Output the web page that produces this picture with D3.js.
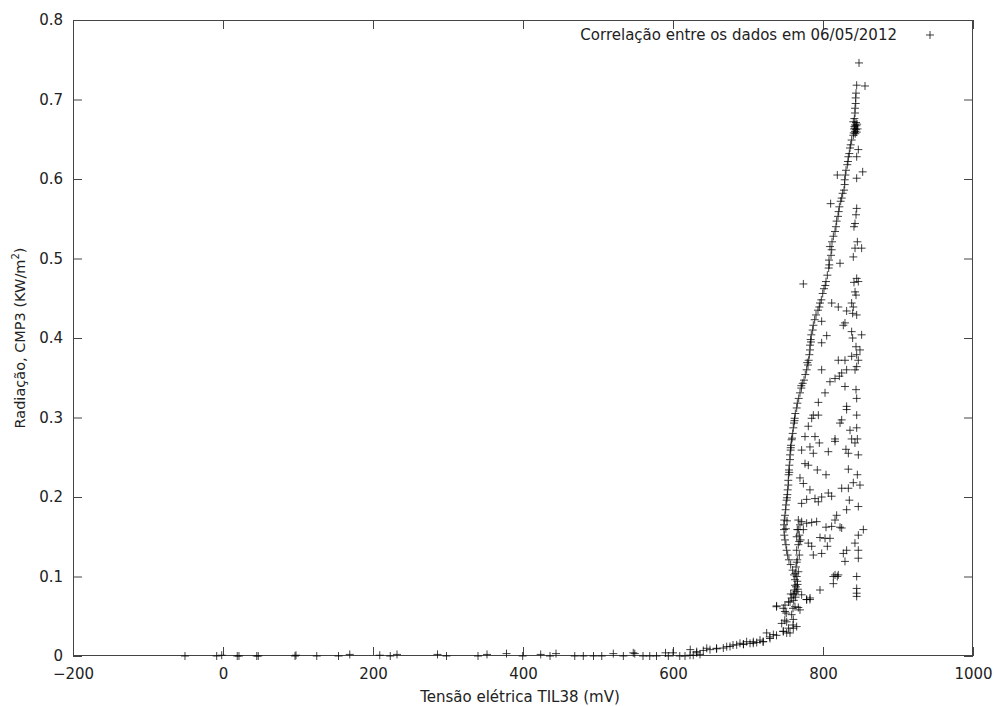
<!DOCTYPE html>
<html>
<head>
<meta charset="utf-8">
<script src="https://cdn.jsdelivr.net/npm/d3@7/dist/d3.min.js"></script>
<style>
  html, body { margin: 0; padding: 0; background: #fff; }
  svg { display: block; }
  text { font-family: "DejaVu Sans", sans-serif; }
</style>
</head>
<body>
<svg id="chart" width="994" height="706"></svg>
<script>
// ---------- data ----------
const xTicks = [-200, 0, 200, 400, 600, 800, 1000];
const yTicks = [0, 0.1, 0.2, 0.3, 0.4, 0.5, 0.6, 0.7, 0.8];
const legendLabel = "Correlação entre os dados em 06/05/2012";
const xLabel = "Tensão elétrica TIL38 (mV)";

// night / low readings along the baseline
const baselinePoints = [
  [-50.7, 0], [-8.4, 0], [-1.7, 0.001], [19, 0], [21.3, 0], [45, 0], [47, 0],
  [96, 0], [97.3, 0.001], [125, 0], [154, 0], [169, 0.002], [209, 0.001],
  [223, 0], [232, 0.002], [286, 0.002], [298, 0], [340, 0], [352, 0.002],
  [378, 0.003], [399.6, 0], [423.6, 0.002], [436, 0], [444, 0.003], [469, 0],
  [480.4, 0], [494, 0], [505, 0], [520.4, 0.003], [533.8, 0], [547, 0.004],
  [549, 0.003], [560, 0], [569, 0], [578, 0], [590, 0.004], [593.8, 0],
  [600, 0.004], [609, 0], [616, 0], [623, 0.008], [627, 0.001], [636, 0.002]
];

// morning rise along the main trace
const risePoints = [
  [622.7, 0.001], [631.6, 0.004], [631.6, 0.0055], [640.4, 0.007], [645, 0.0097],
  [649.3, 0.008], [658.2, 0.009], [658, 0.0097], [667.1, 0.010], [671.6, 0.0117],
  [676, 0.012], [680, 0.0138], [684.9, 0.014], [689.3, 0.016], [693.8, 0.015],
  [694, 0.0147], [698.2, 0.018], [702.7, 0.016], [707, 0.016], [707.1, 0.018],
  [711.6, 0.017], [716, 0.020], [720, 0.018], [720.4, 0.018], [724.9, 0.029],
  [729, 0.024], [729.3, 0.022], [733.8, 0.027], [738, 0.026], [738, 0.062],
  [744.9, 0.041], [747, 0.031], [747.1, 0.031], [749, 0.045], [749.3, 0.056],
  [751, 0.054], [751.6, 0.043], [751.6, 0.029], [754, 0.035], [754, 0.068],
  [756, 0.029], [758.2, 0.052], [760, 0.060], [760, 0.039], [760.4, 0.046],
  [760.4, 0.035], [764.9, 0.037], [769.3, 0.058]
];

// dense main trace of the day
const mainCurve = [
  [758.2, 0.073], [760.4, 0.077], [761.7, 0.083], [762.6, 0.089], [762.6, 0.096],
  [761.3, 0.102], [759.5, 0.108], [756.9, 0.115], [754.6, 0.121], [752.9, 0.127],
  [751.5, 0.133], [750.6, 0.140], [749.3, 0.146], [748.4, 0.152], [748, 0.159],
  [748, 0.165], [748.4, 0.171], [749.3, 0.177], [750.2, 0.184], [750.6, 0.190],
  [751.5, 0.196], [752.4, 0.203], [752.9, 0.209], [753.7, 0.215], [753.7, 0.221],
  [754.2, 0.228], [754.6, 0.234], [755.1, 0.240], [756, 0.247], [756, 0.253],
  [756.9, 0.259], [757.3, 0.265], [758.2, 0.272], [758.7, 0.274], [759.6, 0.280],
  [760.4, 0.287], [761.3, 0.293], [762.2, 0.299], [763.1, 0.305], [764.9, 0.312],
  [765.8, 0.318], [767.6, 0.324], [769.3, 0.331], [771.1, 0.337], [772.9, 0.343],
  [774.7, 0.347], [776.4, 0.354], [778.2, 0.360], [780, 0.366], [780.9, 0.372],
  [781.8, 0.379], [782.7, 0.385], [782.7, 0.391], [783.5, 0.398], [784.4, 0.404],
  [786.2, 0.410], [787.1, 0.416], [788.9, 0.423], [790.7, 0.429], [793.3, 0.435],
  [795.1, 0.439], [797.8, 0.448], [799.6, 0.456], [801.3, 0.462], [804, 0.471],
  [805.8, 0.479], [807.6, 0.488], [808.4, 0.492], [810.7, 0.504], [811.6, 0.511],
  [809.3, 0.515], [812, 0.521], [813.8, 0.528], [816, 0.534], [817.3, 0.540],
  [818.2, 0.547], [820, 0.553], [820.9, 0.559], [821.8, 0.565], [823.6, 0.572],
  [824.9, 0.576], [826.2, 0.582], [828, 0.586], [828.9, 0.593], [828.9, 0.599],
  [829.8, 0.605], [830.7, 0.611], [832.4, 0.618], [833.3, 0.622], [833.8, 0.628],
  [835.1, 0.632], [836, 0.639], [836.9, 0.643], [838.2, 0.649], [840.4, 0.655],
  [842.7, 0.660], [842.7, 0.664], [842.7, 0.668], [840.4, 0.672], [841.8, 0.676],
  [842.7, 0.683], [842.7, 0.689], [843.6, 0.695], [843.6, 0.702], [844, 0.708]
];

// second (afternoon) pass close to the main trace, lower part
const secondBand = [
  [767.1, 0.171], [769.3, 0.165], [765.7, 0.159], [768.4, 0.152], [770.2, 0.146],
  [767.1, 0.140], [764.9, 0.133], [768.4, 0.127], [765.7, 0.121], [764, 0.112],
  [767.1, 0.106], [764.9, 0.100], [765.7, 0.094], [764, 0.087], [764.9, 0.081],
  [766, 0.090], [763, 0.104], [766.5, 0.084], [762.5, 0.079], [765, 0.118],
  [750.5, 0.160], [752, 0.170], [757, 0.078], [761, 0.070], [763.5, 0.074],
  [842, 0.666], [844, 0.662], [845, 0.659], [841, 0.658], [844.5, 0.667],
  [846, 0.663], [843, 0.657], [845.5, 0.669], [841.5, 0.663], [844, 0.671],
  [808, 0.498], [803, 0.466], [796, 0.444], [779, 0.369], [784, 0.395],
  [771, 0.340], [762, 0.296], [757, 0.262], [755, 0.231], [752, 0.199]
];

// cloudy-period scatter to the right of the main trace
const scatterPoints = [
  [848, 0.746], [856, 0.717], [844.9, 0.718], [844.9, 0.628], [847.1, 0.637],
  [819.1, 0.605], [844.9, 0.601], [852.9, 0.609], [810.2, 0.569], [844.9, 0.563],
  [844, 0.555], [842.7, 0.544], [841.3, 0.540], [845.8, 0.521], [842.7, 0.513],
  [851.5, 0.513],
  [773.8, 0.468], [822.7, 0.494], [840.4, 0.502], [844.9, 0.475], [841.3, 0.470],
  [847.1, 0.471], [842.7, 0.458], [844, 0.454], [838.2, 0.444], [840.4, 0.439],
  [820.4, 0.439], [831.5, 0.434], [839.5, 0.431], [844.9, 0.429], [811.6, 0.444],
  [798.2, 0.421], [829.3, 0.419], [827.1, 0.416], [804.9, 0.403], [798.2, 0.394],
  [838.2, 0.408], [851.5, 0.404], [839.5, 0.400], [844, 0.389], [849.3, 0.385],
  [844.9, 0.379], [838.2, 0.377], [847.1, 0.372], [820.4, 0.372], [829.3, 0.372],
  [798.2, 0.360], [831.5, 0.360], [824.9, 0.356], [821.8, 0.352], [816, 0.349],
  [809.3, 0.345], [844.9, 0.364], [842.7, 0.360], [829.3, 0.339], [844, 0.335],
  [844.9, 0.324], [802.7, 0.331], [793.8, 0.319], [831.5, 0.314], [831.5, 0.310],
  [787.1, 0.303], [784.9, 0.299], [793.8, 0.303], [844.9, 0.303], [822.7, 0.293],
  [824.9, 0.297], [780.4, 0.289], [836, 0.284], [844.9, 0.287], [776, 0.276],
  [789.3, 0.276], [816, 0.273], [838.2, 0.273], [845.8, 0.273],
  [771.5, 0.259], [782.6, 0.263], [787.1, 0.255], [795.1, 0.268], [807.1, 0.257],
  [816, 0.270], [830.6, 0.260], [833.8, 0.255], [847.1, 0.253], [842.6, 0.268],
  [776, 0.242], [780.4, 0.240], [792.4, 0.234], [804, 0.228], [833.8, 0.235],
  [845.8, 0.228], [769.3, 0.224], [773.8, 0.217], [782.6, 0.209], [824.9, 0.211],
  [833.8, 0.211], [840.4, 0.218], [849.3, 0.215], [798.2, 0.200], [807.1, 0.205],
  [811.5, 0.201], [789.3, 0.198], [793.8, 0.194], [778.2, 0.197], [771.5, 0.192],
  [835.1, 0.196], [847.1, 0.188], [831.5, 0.184], [818.2, 0.177], [816, 0.171],
  [771.5, 0.169], [778.2, 0.167], [784.9, 0.168], [791.5, 0.169], [804, 0.162],
  [811.5, 0.163], [822.7, 0.162], [824.9, 0.161], [853.8, 0.159], [847.1, 0.152],
  [767.1, 0.159], [773.8, 0.159], [764.9, 0.150], [796, 0.149], [802.7, 0.148],
  [809.3, 0.148], [805.8, 0.138], [768.4, 0.144], [780.4, 0.142], [784.9, 0.138],
  [798.2, 0.129], [787.1, 0.127], [842.6, 0.142], [831.5, 0.133], [827.1, 0.129],
  [829.3, 0.119], [847.1, 0.133], [847.1, 0.123], [816, 0.102], [813.8, 0.091],
  [819.1, 0.100], [844.9, 0.100], [796, 0.083], [844.9, 0.085], [844.9, 0.079],
  [844.9, 0.075], [778.2, 0.071], [782.6, 0.071], [771.5, 0.077], [738.2, 0.063],
  [749.3, 0.064], [756, 0.068], [762.7, 0.062], [767.1, 0.061], [747.1, 0.060],
  [813.8, 0.100], [820.4, 0.102], [778.2, 0.071], [782.7, 0.073]
];

// ---------- drawing ----------
const svg = d3.select("#chart");
const W = 994, H = 706;
const margin = { left: 73, right: 21, top: 20, bottom: 50 };
const x0 = margin.left, x1 = W - margin.right;
const y0 = H - margin.bottom, y1 = margin.top;

const x = d3.scaleLinear().domain([-200, 1000]).range([x0, x1]);
const y = d3.scaleLinear().domain([0, 0.8]).range([y0, y1]);

const tickLen = 9;
const frameColor = "#444";
const textColor = "#222";
const fs = 15;

const fmtY = d => d === 0 ? "0" : d3.format(".1f")(d);
const gx = svg.append("g").attr("transform", `translate(0,${y0})`)
  .call(d3.axisBottom(x).tickValues(xTicks).tickSizeInner(-tickLen).tickSizeOuter(0).tickFormat(d3.format("d")));
const gy = svg.append("g").attr("transform", `translate(${x0},0)`)
  .call(d3.axisLeft(y).tickValues(yTicks).tickSizeInner(-tickLen).tickSizeOuter(0).tickPadding(10).tickFormat(fmtY));
const gxt = svg.append("g").attr("transform", `translate(0,${y1})`)
  .call(d3.axisTop(x).tickValues(xTicks).tickSizeInner(-tickLen).tickSizeOuter(0).tickFormat(""));
const gyr = svg.append("g").attr("transform", `translate(${x1},0)`)
  .call(d3.axisRight(y).tickValues(yTicks).tickSizeInner(-tickLen).tickSizeOuter(0).tickFormat(""));

[gx, gy, gxt, gyr].forEach(g => {
  g.select(".domain").remove();
  g.selectAll(".tick line").attr("stroke", frameColor).attr("stroke-width", 1);
  g.selectAll(".tick text").attr("fill", textColor).attr("font-size", fs)
    .attr("font-family", "DejaVu Sans, sans-serif");
});
// x tick labels: baseline placed well below the axis, clear of the "0" label
gx.selectAll(".tick text").attr("y", 23).attr("dy", "0");

// frame
svg.append("rect")
  .attr("x", x0 + 0.5).attr("y", y1 + 0.5)
  .attr("width", x1 - x0 - 1).attr("height", y0 - y1 - 1)
  .attr("fill", "none").attr("stroke", frameColor).attr("stroke-width", 1);

// axis titles
svg.append("text")
  .attr("x", (x0 + x1) / 2 - 3).attr("y", 702)
  .attr("text-anchor", "middle").attr("font-size", fs).attr("fill", textColor)
  .text(xLabel);

const yl = svg.append("text")
  .attr("transform", `translate(25,${(y0 + y1) / 2}) rotate(-90)`)
  .attr("text-anchor", "middle").attr("font-size", 14.5).attr("fill", textColor);
yl.append("tspan").text("Radiação, CMP3 (KW/m");
yl.append("tspan").attr("font-size", 10).attr("dy", -6).text("2");
yl.append("tspan").attr("dy", 6).text(")");

// markers
const allPoints = baselinePoints.concat(risePoints, mainCurve, secondBand, scatterPoints);
const cs = 4;
const crossPath = `M${-cs},0H${cs}M0,${-cs}V${cs}`;
svg.append("g").selectAll("path").data(allPoints).join("path")
  .attr("transform", d => `translate(${x(d[0])},${y(d[1])})`)
  .attr("d", crossPath)
  .attr("stroke", "#000").attr("stroke-opacity", 0.75).attr("stroke-width", 1)
  .attr("fill", "none");

// legend
svg.append("text")
  .attr("x", 897).attr("y", 40)
  .attr("text-anchor", "end").attr("font-size", fs).attr("fill", textColor)
  .text(legendLabel);
svg.append("path")
  .attr("transform", `translate(930,35)`)
  .attr("d", crossPath)
  .attr("stroke", "#000").attr("stroke-opacity", 0.75).attr("stroke-width", 1);
</script>
</body>
</html>
